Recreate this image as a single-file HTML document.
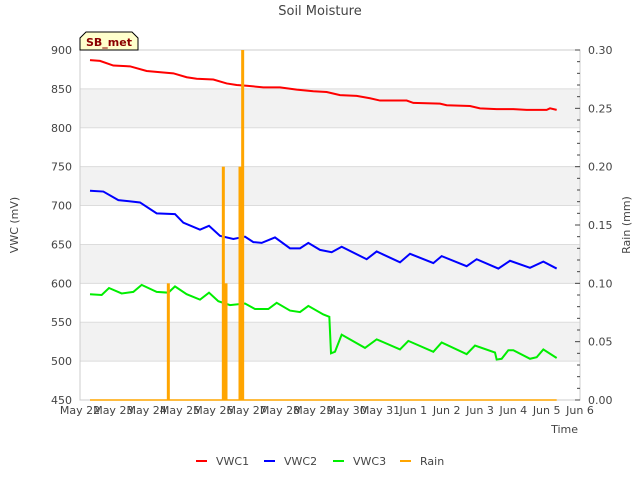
<!DOCTYPE html>
<html><head><meta charset="utf-8"><style>
body{margin:0;background:#fff;}
svg text{font-family:"DejaVu Sans","Liberation Sans",sans-serif;}
</style></head><body>
<svg id="chart" width="640" height="480" xmlns="http://www.w3.org/2000/svg">
<text x="320" y="15" text-anchor="middle" font-size="13" fill="#444">Soil Moisture</text>
<g id="bands"></g>
<g id="grid"></g>
<g id="axes"></g>
<g id="series"></g>
<g>
<path d="M80,50 L80,38 L86,32 L132,32 L138,38 L138,50 Z" fill="#ffffcc" stroke="#000" stroke-width="1"/>
<text x="109" y="46" text-anchor="middle" font-size="11" font-weight="bold" fill="#8b0000">SB_met</text>
</g>
<text transform="translate(18,225) rotate(-90)" text-anchor="middle" font-size="11" fill="#444">VWC (mV)</text>
<text transform="translate(630,225) rotate(-90)" text-anchor="middle" font-size="11" fill="#444">Rain (mm)</text>
<text x="578" y="433" text-anchor="end" font-size="11" fill="#444">Time</text>
<g id="legend"></g>
</svg>
<script>
const xLabels=["May 22","May 23","May 24","May 25","May 26","May 27","May 28","May 29","May 30","May 31","Jun 1","Jun 2","Jun 3","Jun 4","Jun 5","Jun 6"];
const yTicks=[450,500,550,600,650,700,750,800,850,900];
const y2Ticks=["0.00","0.05","0.10","0.15","0.20","0.25","0.30"];
const vwc1Days=[0.3,0.6,1.0,1.5,2.0,2.5,2.8,3.2,3.5,4.0,4.4,4.7,5.0,5.5,6.0,6.5,7.0,7.4,7.8,8.3,8.7,9.0,9.8,10.0,10.8,11.0,11.7,12.0,12.5,13.0,13.4,14.0,14.1,14.3];
const vwc1Vals=[887,886,880,879,873,871,870,865,863,862,857,855,854,852,852,849,847,846,842,841,838,835,835,832,831,829,828,825,824,824,823,823,825,823];
const vwc2Days=[0.3,0.7,1.15,1.8,2.3,2.85,3.1,3.6,3.87,4.2,4.6,4.95,5.2,5.45,5.85,6.3,6.6,6.85,7.2,7.55,7.85,8.6,8.9,9.6,9.9,10.6,10.85,11.6,11.9,12.55,12.9,13.5,13.9,14.3];
const vwc2Vals=[719,718,707,704,690,689,678,669,674,661,657,660,653,652,659,645,645,652,643,640,647,631,641,627,638,626,635,622,631,619,629,620,628,619];
const vwc3Days=[0.3,0.65,0.87,1.25,1.6,1.85,2.3,2.65,2.85,3.2,3.6,3.87,4.15,4.5,4.95,5.25,5.65,5.9,6.3,6.6,6.85,7.3,7.48,7.53,7.65,7.85,8.55,8.9,9.6,9.85,10.6,10.85,11.6,11.85,12.45,12.5,12.65,12.85,13.0,13.5,13.7,13.9,14.3];
const vwc3Vals=[586,585,594,587,589,598,589,588,596,586,579,588,577,572,574,567,567,575,565,563,571,560,557,510,512,534,517,528,515,526,512,524,509,520,511,502,503,514,514,503,505,515,504];
const rainDays=[2.65,4.3,4.38,4.8,4.88];
const rainVals=[0.1,0.2,0.1,0.2,0.3];
const rainStart=0.3, rainEnd=14.3;

const NS="http://www.w3.org/2000/svg";
const L=80,R=580,T=50,B=400;
const xS=d=>L+d*(R-L)/15;
const yS=v=>B-(v-450)*(B-T)/450;
const y2S=v=>B-v*(B-T)/0.3;
function mk(tag,attrs,parent){const e=document.createElementNS(NS,tag);for(const k in attrs)e.setAttribute(k,attrs[k]);parent.appendChild(e);return e;}
const bands=document.getElementById('bands'),grid=document.getElementById('grid'),axes=document.getElementById('axes'),series=document.getElementById('series'),legend=document.getElementById('legend');
for(let i=0;i<yTicks.length-1;i++){if(i%2===1){const r=mk('rect',{x:L,y:yS(yTicks[i+1]),width:R-L,height:yS(yTicks[i])-yS(yTicks[i+1]),fill:'#f2f2f2'},bands);

}}
yTicks.forEach(v=>{const l=mk('line',{x1:L,x2:R,y1:yS(v),y2:yS(v),stroke:'#dcdcdc','stroke-width':1},grid);


const t=mk('text',{x:L-8,y:yS(v)+4,'text-anchor':'end','font-size':11,fill:'#444'},axes);t.textContent=v;

});
mk('rect',{x:L,y:T,width:R-L,height:B-T,fill:'none',stroke:'#ccc'},axes);
y2Ticks.forEach(s=>{const v=parseFloat(s);const t=mk('text',{x:R+8,y:y2S(v)+4,'font-size':11,fill:'#444'},axes);t.textContent=s;

});
for(let k=0;k<=30;k++){const y=y2S(k/100);mk('line',{x1:R,x2:R-(k%5===0?5:3),y1:y,y2:y,stroke:'#444'},axes);}
xLabels.forEach((s,i)=>{const t=mk('text',{x:xS(i),y:414,'text-anchor':'middle','font-size':11,fill:'#444'},axes);t.textContent=s;

});
function line(days,vals,color,name){const p=mk('polyline',{points:days.map((d,i)=>xS(d)+','+yS(vals[i])).join(' '),fill:'none',stroke:color,'stroke-width':2},series);

}
line(vwc1Days,vwc1Vals,'#ff0000','vwc1-line');
line(vwc2Days,vwc2Vals,'#0000ff','vwc2-line');
line(vwc3Days,vwc3Vals,'#00ee00','vwc3-line');
const base=mk('line',{x1:xS(rainStart),x2:xS(rainEnd),y1:y2S(0),y2:y2S(0),stroke:'#ffa500','stroke-width':1.5},series);


rainDays.forEach((d,i)=>{const b=mk('rect',{x:xS(d)-1.5,y:y2S(rainVals[i]),width:3,height:y2S(0)-y2S(rainVals[i]),fill:'#ffa500'},series);

});
[['VWC1','#ff0000',196],['VWC2','#0000ff',264],['VWC3','#00ee00',333],['Rain','#ffa500',400]].forEach(([n,c,x])=>{const g=mk('g',{},legend);


mk('line',{x1:x,x2:x+11,y1:461,y2:461,stroke:c,'stroke-width':2},g);const t=mk('text',{x:x+20,y:465,'font-size':11,fill:'#444'},g);t.textContent=n;});
</script>
</body></html>
